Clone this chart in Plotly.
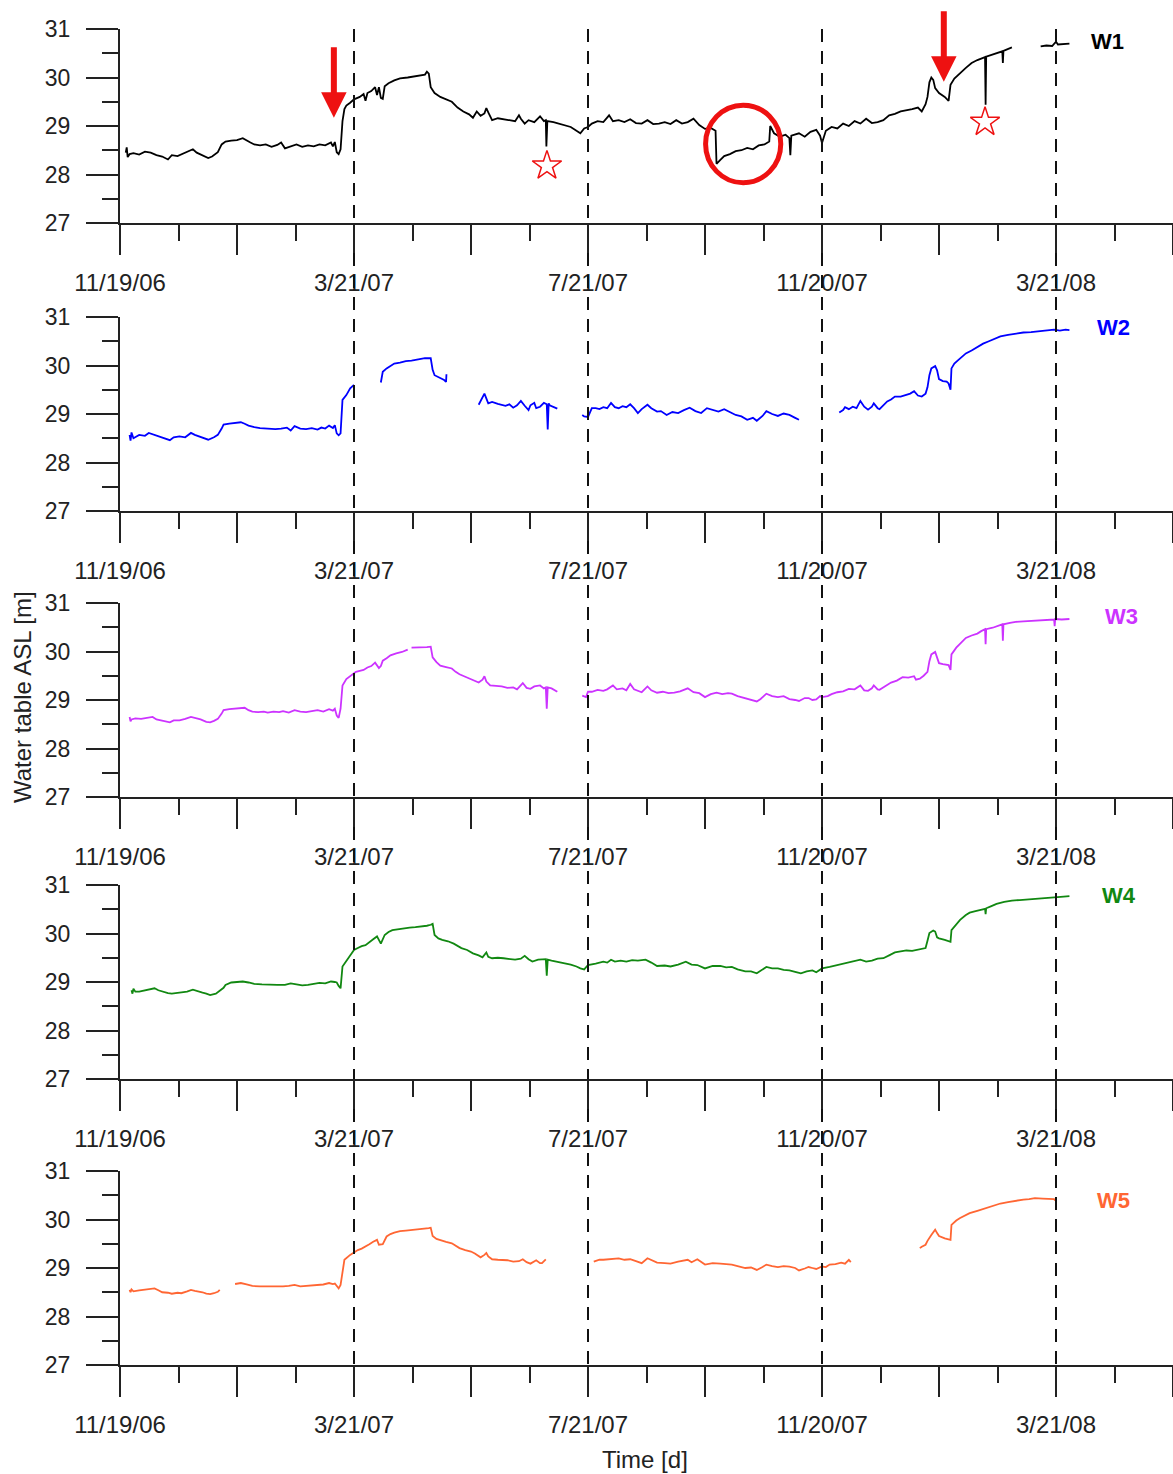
import plotly.graph_objects as go

# ---------------- data ----------------
# x = days since 11/19/06, y = water table above sea level [m]
XTICK_DAYS = [0, 122, 244, 366, 488]
XTICK_LABELS = ["11/19/06", "3/21/07", "7/21/07", "11/20/07", "3/21/08"]
X_RANGE = [0, 549]
Y_RANGE = [27, 31]
Y_TICKS = [27, 28, 29, 30, 31]
EVENT_DAYS = [122, 244, 366, 488]          # dashed reference dates

WELLS = ["W1", "W2", "W3", "W4", "W5"]
COLORS = ["#000000", "#0000FF", "#CC33FF", "#118811", "#FF6633"]

W1 = [(3,28.45),(3.5,28.56),(4,28.36),(5,28.42),(7,28.44),(10,28.41),(13,28.47),(16,28.45),(19,28.40),(22,28.37),
      (25,28.31),(27,28.40),(30,28.38),(33,28.43),(36,28.48),(38,28.52),(40,28.45),(43,28.40),(46,28.34),(48,28.37),
      (51,28.46),(53,28.62),(55,28.68),(58,28.70),(61,28.71),(64,28.75),(66,28.70),(68,28.66),(70,28.62),(73,28.60),
      (76,28.62),(79,28.57),(82,28.61),(84,28.66),(86,28.54),(89,28.58),(92,28.62),(95,28.57),(98,28.60),(101,28.58),
      (104,28.62),(107,28.60),(110,28.66),(111,28.58),(112,28.67),(113,28.46),(114,28.42),(115,28.52),(116,29.10),(117,29.35),
      (118,29.42),(120,29.48),(122,29.55),(125,29.60),(127,29.66),(128,29.52),(129,29.68),(131,29.72),(133,29.80),(134,29.64),
      (135,29.80),(136,29.58),(137,29.56),(138,29.82),(140,29.88),(143,29.94),(146,29.98),(150,30.00),(153,30.02),(156,30.04),
      (159,30.06),(160,30.12),(161,30.08),(162,29.80),(164,29.68),(167,29.60),(170,29.55),(173,29.50),(176,29.38),(179,29.30),
      (182,29.24),(184,29.17),(186,29.30),(188,29.21),(190,29.26),(191,29.37),(192,29.28),(194,29.12),(197,29.16),(200,29.14),
      (203,29.12),(206,29.10),(208,29.22),(209,29.15),(211,29.05),(213,29.12),(216,29.08),(219,29.20),(221,29.10),(222,29.12),
      (222.3,28.58),(222.8,29.10),(226,29.08),(229,29.05),(232,29.02),(235,28.98),(238,28.90),(240,28.85),(242,28.95),(244,28.98),
      (246,29.05),(249,29.10),(252,29.08),(255,29.22),(257,29.10),(260,29.12),(263,29.08),(266,29.14),(269,29.06),(272,29.05),
      (275,29.12),(278,29.04),(281,29.05),(284,29.08),(287,29.04),(290,29.12),(293,29.05),(296,29.08),(299,29.15),(302,29.02),
      (305,28.94),(308,28.96),(310.5,28.90),(311,28.22),(313,28.30),(315,28.38),(318,28.42),(321,28.48),(324,28.50),(327,28.55),
      (330,28.52),(333,28.60),(336,28.62),(338.5,28.68),(339,29.00),(341,28.85),(344,28.78),(347,28.82),(349,28.75),(349.5,28.40),
      (350,28.80),(354,28.85),(357,28.78),(360,28.88),(363,28.92),(365,28.80),(366,28.65),(368,28.90),(371,28.98),(374,28.95),
      (377,29.05),(380,29.00),(383,29.10),(386,29.05),(389,29.15),(392,29.06),(395,29.08),(398,29.12),(401,29.22),(404,29.25),
      (407,29.30),(410,29.32),(413,29.35),(416,29.38),(418,29.30),(420,29.45),(421,29.60),(422,29.90),(423,30.00),(424,29.95),
      (425,29.78),(427,29.68),(430,29.60),(432,29.52),(433,29.85),(435,29.98),(438,30.10),(441,30.20),(444,30.30),(447,30.36),
      (451,30.42),(451.3,29.44),(451.6,30.43),(455,30.48),(458,30.52),(460,30.54),(460.3,30.30),(460.6,30.55),(465,30.62),(470,None),
      (480,30.64),(483,30.66),(486,30.65),(488,30.74),(489,30.68),(492,30.69),(495,30.70)]

W2 = [(5,28.57),(5.5,28.45),(6,28.62),(7,28.50),(10,28.57),(13,28.55),(15,28.61),(18,28.57),(21,28.54),(24,28.50),
      (26,28.46),(28,28.52),(31,28.54),(34,28.52),(37,28.61),(39,28.57),(41,28.54),(44,28.50),(46,28.47),(49,28.52),
      (51,28.57),(53,28.70),(54,28.78),(57,28.80),(60,28.81),(63,28.83),(65,28.80),(67,28.76),(70,28.73),(73,28.71),
      (77,28.70),(81,28.69),(84,28.70),(87,28.72),(89,28.66),(91,28.75),(94,28.70),(97,28.69),(100,28.71),(103,28.68),
      (105,28.72),(107,28.70),(109,28.76),(111,28.71),(112,28.77),(113,28.60),(114,28.56),(115,28.60),(116,29.29),(118,29.39),
      (120,29.53),(122,29.60),(124,None),(136,29.65),(137,29.87),(139,29.94),(141,29.99),(143,30.04),(146,30.06),(149,30.09),
      (152,30.10),(155,30.12),(159,30.15),(162,30.15),(163,29.91),(164,29.80),(167,29.74),(169,29.70),(170,29.66),(170.2,29.82),
      (172,None),(187,29.19),(189,29.33),(190,29.42),(192,29.22),(194,29.25),(197,29.21),(199,29.19),(201,29.17),(203,29.20),
      (205,29.13),(207,29.18),(209,29.27),(211,29.17),(213,29.08),(214,29.18),(216,29.23),(217,29.12),(219,29.15),(221,29.23),
      (222.5,29.20),(223,28.68),(223.5,29.22),(224,29.18),(226,29.15),(228,29.11),(232,None),(241,28.98),(242,28.95),(244,28.94),
      (246,29.12),(248,29.12),(250,29.10),(252,29.14),(254,29.12),(256,29.23),(258,29.14),(260,29.12),(262,29.16),(264,29.14),
      (266,29.20),(268,29.12),(270,29.02),(272,29.10),(275,29.19),(277,29.12),(280,29.05),(282,29.06),(285,28.98),(288,29.04),
      (291,29.02),(294,29.08),(297,29.13),(300,29.06),(303,29.02),(306,29.12),(309,29.09),(312,29.05),(315,29.10),(318,29.04),
      (321,28.98),(324,28.95),(327,28.88),(330,28.92),(332,28.86),(335,28.96),(337,29.06),(340,29.00),(343,28.96),(346,29.01),
      (349,28.98),(352,28.92),(354,28.88),(356,None),(375,29.03),(377,29.08),(378,29.14),(380,29.10),(382,29.15),(384,29.12),
      (386,29.27),(388,29.15),(390,29.09),(392,29.15),(393,29.22),(395,29.12),(396,29.10),(398,29.18),(400,29.26),(402,29.30),
      (404,29.36),(407,29.36),(410,29.40),(412,29.42),(414,29.47),(416,29.38),(418,29.36),(420,29.42),(421,29.55),(422,29.80),
      (423,29.94),(425,29.99),(426,29.90),(427,29.72),(429,29.68),(431,29.67),(432,29.63),(433,29.50),(433.5,29.94),(435,30.04),
      (437,30.11),(439,30.18),(441,30.25),(444,30.31),(447,30.38),(450,30.45),(453,30.50),(456,30.55),(459,30.60),(463,30.63),
      (467,30.66),(471,30.68),(475,30.69),(478,30.70),(481,30.71),(484,30.72),(487,30.74),(490,30.72),(493,30.74),(495,30.73)]

W3 = [(5,28.65),(5.5,28.56),(6,28.60),(8,28.62),(11,28.61),(14,28.63),(17,28.65),(19,28.60),(21,28.58),(24,28.56),
      (26,28.54),(28,28.58),(31,28.58),(34,28.61),(37,28.65),(40,28.62),(42,28.60),(45,28.55),(47,28.54),(49,28.57),
      (51,28.61),(53,28.72),(54,28.79),(57,28.81),(59,28.82),(62,28.83),(65,28.84),(67,28.79),(69,28.76),(72,28.75),
      (75,28.76),(77,28.74),(80,28.76),(83,28.75),(85,28.77),(88,28.74),(91,28.79),(94,28.76),(97,28.75),(100,28.77),
      (103,28.79),(106,28.76),(109,28.81),(111,28.78),(112,28.82),(113,28.68),(114,28.63),(115,28.82),(116,29.30),(118,29.43),
      (121,29.53),(123,29.58),(125,29.60),(127,29.62),(129,29.67),(131,29.70),(133,29.77),(134,29.72),(135,29.66),(136,29.70),
      (137,29.81),(139,29.86),(141,29.92),(144,29.96),(147,29.99),(150,30.04),(151,None),(152,30.08),(155,30.08),(157,30.09),
      (160,30.09),(162,30.10),(163,29.88),(165,29.78),(167,29.71),(170,29.68),(173,29.65),(175,29.58),(177,29.53),(180,29.48),
      (183,29.43),(185,29.40),(187,29.36),(189,29.42),(190,29.49),(191,29.38),(193,29.30),(196,29.29),(199,29.28),(202,29.25),
      (205,29.26),(207,29.22),(210,29.35),(212,29.25),(214,29.23),(216,29.28),(219,29.30),(221,29.24),(222,29.26),(222.5,28.82),
      (223,29.26),(225,29.24),(228,29.17),(230,None),(241,29.09),(243,29.06),(244,29.17),(246,29.17),(249,29.21),(252,29.19),
      (254,29.22),(257,29.30),(259,29.22),(262,29.24),(264,29.20),(266,29.33),(268,29.22),(270,29.19),(272,29.16),(275,29.28),
      (277,29.20),(280,29.15),(283,29.17),(286,29.14),(289,29.15),(292,29.18),(296,29.24),(299,29.16),(302,29.14),(305,29.06),
      (308,29.12),(311,29.15),(314,29.12),(317,29.14),(319,29.13),(322,29.08),(325,29.05),(327,29.02),(330,29.00),(332,28.97),
      (334,29.02),(337,29.13),(340,29.08),(343,29.06),(346,29.08),(349,29.02),(352,29.00),(354,28.98),(357,29.04),(359,29.04),
      (361,29.00),(363,29.01),(365,29.08),(366,29.06),(369,29.08),(371,29.12),(374,29.16),(377,29.18),(380,29.23),(383,29.22),
      (386,29.30),(388,29.20),(390,29.19),(392,29.24),(393,29.30),(395,29.22),(396,29.21),(399,29.28),(402,29.36),(405,29.40),
      (408,29.47),(411,29.46),(414,29.49),(415,29.42),(417,29.44),(419,29.50),(421,29.58),(422,29.80),(423,29.94),(425,29.99),
      (426,29.88),(427,29.76),(429,29.74),(431,29.72),(432,29.72),(433,29.62),(433.5,29.94),(436,30.08),(438,30.16),(441,30.28),
      (444,30.33),(447,30.37),(449,30.42),(451,30.46),(451.3,30.15),(451.6,30.46),(455,30.49),(458,30.54),(460,30.56),(460.3,30.22),
      (460.6,30.56),(464,30.59),(467,30.61),(471,30.62),(474,30.63),(477,30.64),(481,30.65),(484,30.65),(487,30.66),(487.3,30.52),
      (487.6,30.67),(491,30.66),(495,30.67)]

W4 = [(6,28.83),(6.5,28.76),(7,28.86),(8,28.80),(10,28.80),(13,28.83),(16,28.85),(18,28.87),(20,28.83),(22,28.80),
      (25,28.77),(27,28.76),(30,28.77),(32,28.78),(35,28.80),(38,28.84),(40,28.81),(43,28.78),(45,28.76),(47,28.73),
      (50,28.76),(52,28.82),(54,28.88),(55,28.94),(58,28.99),(61,29.00),(64,29.01),(67,28.99),(70,28.96),(74,28.95),
      (78,28.94),(82,28.94),(86,28.94),(89,28.97),(92,28.95),(95,28.93),(98,28.94),(101,28.96),(104,28.98),(107,28.97),
      (110,29.01),(112,29.00),(113,28.99),(114,28.92),(115,28.87),(116,29.32),(119,29.49),(122,29.66),(124,29.70),(126,29.74),
      (128,29.76),(130,29.83),(132,29.88),(134,29.94),(135,29.86),(136,29.79),(138,29.97),(140,30.03),(142,30.07),(145,30.09),
      (148,30.11),(151,30.12),(154,30.13),(157,30.14),(160,30.16),(162,30.18),(163,30.20),(164,29.97),(166,29.90),(168,29.87),
      (171,29.84),(174,29.79),(176,29.74),(178,29.70),(181,29.66),(184,29.59),(187,29.55),(189,29.51),(191,29.61),(192,29.52),
      (194,29.49),(197,29.50),(200,29.49),(203,29.48),(206,29.46),(209,29.48),(211,29.54),(213,29.47),(215,29.42),(218,29.46),
      (220,29.47),(222,29.47),(222.5,29.13),(223,29.46),(225,29.44),(228,29.42),(232,29.39),(235,29.36),(238,29.32),(240,29.28),
      (242,29.26),(244,29.35),(248,29.38),(252,29.42),(254,29.40),(256,29.46),(258,29.42),(261,29.44),(264,29.42),(267,29.45),
      (270,29.44),(274,29.46),(277,29.40),(280,29.33),(284,29.34),(287,29.32),(291,29.36),(295,29.42),(298,29.36),(301,29.35),
      (305,29.28),(309,29.33),(313,29.33),(316,29.30),(319,29.31),(322,29.26),(326,29.22),(329,29.22),(332,29.18),(335,29.26),
      (337,29.31),(340,29.28),(343,29.28),(346,29.25),(349,29.24),(352,29.21),(355,29.18),(358,29.22),(361,29.24),(363,29.20),
      (366,29.28),(370,29.31),(374,29.35),(377,29.37),(380,29.40),(383,29.43),(386,29.46),(389,29.42),(392,29.44),(395,29.48),
      (398,29.49),(401,29.55),(404,29.61),(407,29.63),(410,29.65),(413,29.64),(416,29.66),(418,29.68),(420,29.70),(421,29.85),
      (422,30.01),(424,30.06),(425,30.04),(426,29.92),(427,29.90),(430,29.87),(432,29.84),(433,29.83),(433.5,30.07),(436,30.20),
      (438,30.28),(441,30.38),(443,30.43),(446,30.46),(449,30.49),(451,30.51),(451.3,30.40),(451.6,30.52),(454,30.56),(457,30.61),
      (461,30.65),(465,30.68),(469,30.69),(473,30.70),(477,30.71),(481,30.73),(485,30.74),(489,30.75),(492,30.76),(495,30.77)]

W5 = [(5,28.55),(5.5,28.50),(6,28.56),(7,28.52),(10,28.54),(13,28.55),(16,28.56),(18,28.58),(20,28.54),(22,28.50),
      (25,28.49),(27,28.47),(30,28.49),(32,28.48),(35,28.52),(37,28.55),(39,28.53),(41,28.52),(43,28.50),(45,28.47),
      (47,28.46),(49,28.48),(51,28.51),(52,28.55),(55,None),(60,28.67),(63,28.69),(66,28.66),(69,28.63),(73,28.62),
      (77,28.62),(81,28.61),(85,28.62),(88,28.63),(91,28.65),(94,28.62),(97,28.63),(100,28.64),(103,28.65),(106,28.66),
      (109,28.69),(111,28.67),(112,28.68),(113,28.62),(114,28.58),(115,28.65),(116,28.96),(117,29.17),(120,29.27),(122,29.32),
      (124,29.37),(126,29.40),(128,29.44),(130,29.49),(132,29.54),(134,29.58),(135,29.48),(137,29.49),(139,29.65),(141,29.70),
      (143,29.73),(146,29.76),(149,29.77),(152,29.78),(155,29.79),(158,29.80),(161,29.82),(162,29.83),(163,29.66),(165,29.60),
      (167,29.57),(170,29.54),(173,29.51),(175,29.46),(177,29.41),(180,29.37),(183,29.34),(185,29.30),(188,29.22),(190,29.27),
      (191,29.31),(192,29.24),(194,29.18),(197,29.17),(199,29.17),(202,29.16),(205,29.13),(208,29.14),(210,29.18),(212,29.12),
      (214,29.09),(216,29.14),(217,29.16),(219,29.10),(220,29.10),(222,29.18),(224,None),(247,29.13),(250,29.17),(252,29.17),
      (256,29.19),(260,29.20),(263,29.17),(266,29.18),(269,29.14),(272,29.10),(275,29.20),(278,29.14),(280,29.11),(284,29.10),
      (287,29.09),(291,29.13),(296,29.17),(298,29.12),(301,29.18),(305,29.07),(309,29.10),(313,29.09),(316,29.08),(319,29.07),
      (323,29.03),(326,29.00),(329,29.01),(332,28.96),(335,29.02),(337,29.07),(340,29.04),(343,29.02),(346,29.04),(349,29.03),
      (352,29.00),(354,28.95),(357,28.99),(359,29.02),(361,29.00),(363,28.98),(366,29.03),(368,29.02),(370,29.07),(373,29.08),
      (376,29.11),(378,29.09),(380,29.17),(381,29.12),(383,None),(417,29.41),(418,29.44),(420,29.48),(421,29.56),(423,29.68),
      (425,29.79),(426,29.72),(427,29.66),(430,29.61),(432,29.60),(433,29.58),(433.5,29.89),(436,29.98),(438,30.03),(441,30.09),
      (443,30.13),(447,30.18),(451,30.23),(455,30.28),(459,30.33),(463,30.36),(467,30.39),(471,30.41),(474,30.42),(477,30.44),
      (481,30.43),(484,30.42),(487,30.42),(487.5,30.39)]

SERIES = [W1, W2, W3, W4, W5]

# W1 annotations
STAR_DAYS = [222.6, 451.0]
STAR_LEVELS = [28.18, 29.08]
ARROW_DAYS = [111.5, 429.5]
ARROW_TIP_LEVELS = [29.17, 29.91]
CIRCLE_DAYS = [305.3, 344.5]
CIRCLE_LEVELS = [27.83, 29.43]
LABEL_DAYS = [515, 518, 522, 521, 518]
LABEL_LEVELS = [30.75, 30.79, 30.73, 30.79, 30.40]

# ---------------- layout geometry (pixels) ----------------
W, H = 1173, 1474
PLOT_L = 120
PANEL_TOPS = [29, 317, 603, 885, 1171]
PANEL_BOTS = [223, 511, 797, 1079, 1365]
TOP, BOT = PANEL_TOPS[0], PANEL_BOTS[-1]
SPAN = BOT - TOP


def py(ypix):
    return (BOT - ypix) / SPAN


def px(xpix):
    return (xpix - PLOT_L) / (W - PLOT_L)


FONT = "Liberation Sans, Arial, sans-serif"
AXC = "#222222"

fig = go.Figure()

major_x = [X_RANGE[0] + 61 * i for i in range(10)]
major_text = []
for v in major_x:
    major_text.append(XTICK_LABELS[XTICK_DAYS.index(v)] if v in XTICK_DAYS else "")
minor_x = [30.5 + 61 * i for i in range(9)]

for k in range(5):
    n = k + 1
    xs = [p[0] for p in SERIES[k]]
    ys = [p[1] for p in SERIES[k]]
    fig.add_trace(go.Scatter(x=xs, y=ys, mode="lines", connectgaps=False,
                             line=dict(color=COLORS[k], width=1.8),
                             xaxis="x" if n == 1 else f"x{n}",
                             yaxis="y" if n == 1 else f"y{n}",
                             showlegend=False, hoverinfo="skip"))
    dom = [py(PANEL_BOTS[k]), py(PANEL_TOPS[k])]
    xa = dict(domain=[0, 1], range=X_RANGE, anchor="y" if n == 1 else f"y{n}",
              showgrid=False, zeroline=False, showline=True, linecolor=AXC, linewidth=2,
              ticks="outside", ticklen=30, tickwidth=2, tickcolor=AXC,
              tickmode="array", tickvals=major_x, ticktext=major_text,
              ticklabelstandoff=7,
              tickfont=dict(family=FONT, size=24, color=AXC),
              minor=dict(tickmode="array", tickvals=minor_x, ticks="outside",
                         ticklen=16, tickwidth=2, tickcolor=AXC, showgrid=False))
    ya = dict(domain=dom, range=Y_RANGE, anchor="x" if n == 1 else f"x{n}",
              showgrid=False, zeroline=False, showline=True, linecolor=AXC, linewidth=2,
              ticks="outside", ticklen=32, tickwidth=2, tickcolor=AXC,
              tickmode="array", tickvals=Y_TICKS, ticklabelstandoff=11,
              tickfont=dict(family=FONT, size=23, color=AXC),
              minor=dict(tickmode="array", tickvals=[27.5, 28.5, 29.5, 30.5], ticks="outside",
                         ticklen=16, tickwidth=2, tickcolor=AXC, showgrid=False))
    fig.update_layout(**{("xaxis" if n == 1 else f"xaxis{n}"): xa,
                         ("yaxis" if n == 1 else f"yaxis{n}"): ya})

    # dashed event lines
    ytop = PANEL_TOPS[0] if k == 0 else PANEL_BOTS[k - 1] + 30
    for d in EVENT_DAYS:
        xp = (d - X_RANGE[0]) / (X_RANGE[1] - X_RANGE[0])
        fig.add_shape(type="line", xref="paper", yref="paper",
                      x0=xp, x1=xp, y0=py(ytop), y1=py(PANEL_BOTS[k]),
                      line=dict(color="#111111", width=2, dash="13px,9px"))

    # well label
    fig.add_annotation(x=LABEL_DAYS[k], y=LABEL_LEVELS[k],
                       xref="x" if n == 1 else f"x{n}", yref="y" if n == 1 else f"y{n}",
                       text=f"<b>{WELLS[k]}</b>", showarrow=False,
                       font=dict(family=FONT, size=22, color=COLORS[k]))

# stars on W1
fig.add_trace(go.Scatter(x=STAR_DAYS, y=STAR_LEVELS, mode="markers", xaxis="x", yaxis="y",
                         marker=dict(symbol="star-open", size=22, color="#EE1111",
                                     line=dict(color="#EE1111", width=1.5)),
                         showlegend=False, hoverinfo="skip"))

# red arrows on W1
for d, lv in zip(ARROW_DAYS, ARROW_TIP_LEVELS):
    fig.add_annotation(x=d, y=lv, xref="x", yref="y", text="", showarrow=True,
                       ax=0, ay=-72, arrowhead=2, arrowsize=0.85, arrowwidth=6,
                       arrowcolor="#EE1111", standoff=0)

# red circle on W1
fig.add_shape(type="circle", xref="x", yref="y",
              x0=CIRCLE_DAYS[0], x1=CIRCLE_DAYS[1], y0=CIRCLE_LEVELS[0], y1=CIRCLE_LEVELS[1],
              line=dict(color="#EE1111", width=5))

# axis titles
fig.add_annotation(x=px(22), y=py(697), xref="paper", yref="paper",
                   xanchor="center", yanchor="middle",
                   text="Water table ASL [m]", textangle=-90, showarrow=False,
                   font=dict(family=FONT, size=24, color=AXC))
fig.add_annotation(x=px(645), y=py(1460), xref="paper", yref="paper",
                   xanchor="center", yanchor="middle",
                   text="Time [d]", showarrow=False,
                   font=dict(family=FONT, size=24, color=AXC))

fig.update_layout(width=W, height=H, margin=dict(l=PLOT_L, r=0, t=TOP, b=H - BOT),
                  paper_bgcolor="white", plot_bgcolor="white", showlegend=False)

fig.write_html("out.html")
